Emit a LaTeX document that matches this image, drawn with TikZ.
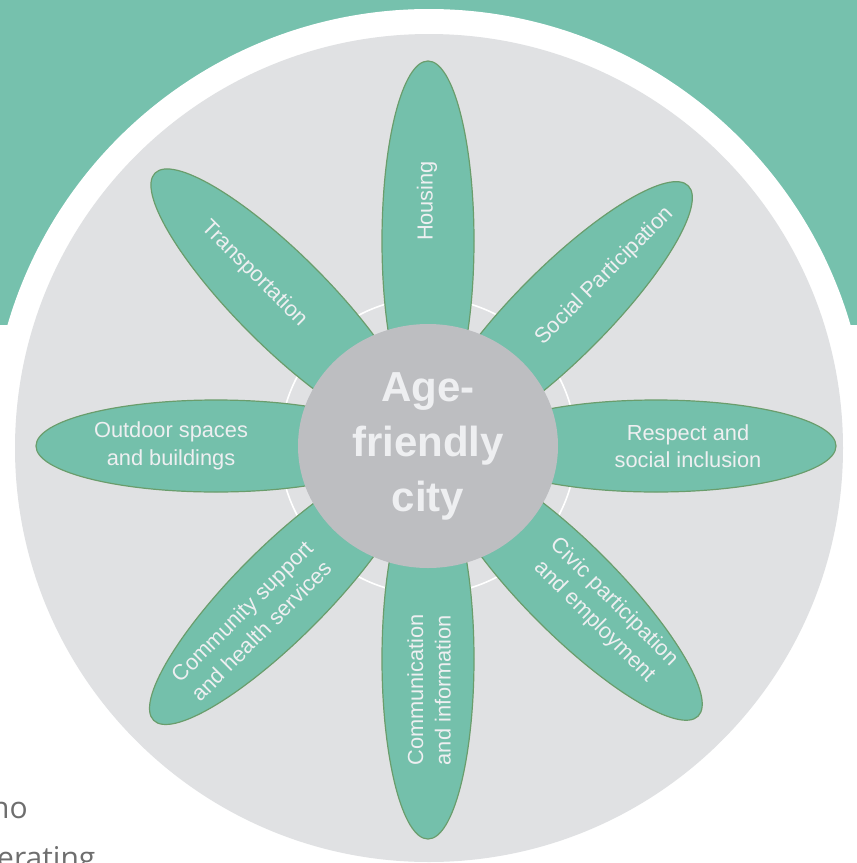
\documentclass[tikz,border=0pt]{standalone}
\usepackage{fontspec}
\setmainfont{Liberation Sans}
\newfontfamily\bodyfont{Open Sans}
\usetikzlibrary{shapes.geometric,calc}
\definecolor{tealbg}{HTML}{76C1AD}
\definecolor{petalfill}{HTML}{74C0AB}
\definecolor{petaledge}{HTML}{6A9D6C}
\definecolor{discgray}{HTML}{E0E1E3}
\definecolor{hubgray}{HTML}{BDBEC1}
\definecolor{labelc}{HTML}{EEEFF1}
\definecolor{pagetext}{HTML}{6E6E6E}
\tikzset{
  petalshape/.style={ellipse, draw=petaledge, line width=1.2pt, fill=petalfill,
    minimum width=360pt, minimum height=92pt, inner sep=0pt},
  petallabel/.style={text=labelc, align=center, inner sep=0pt,
    font=\fontsize{21.8}{27.5}\selectfont},
  hubshape/.style={ellipse, fill=hubgray, minimum width=260pt, minimum height=244pt,
    inner sep=0pt, text=labelc, align=center, font=\fontsize{42}{55}\selectfont\bfseries},
  pagetextstyle/.style={text=pagetext, inner sep=0pt, anchor=base west,
    font=\bodyfont\fontsize{30}{36}\selectfont}
}
\newcommand\mypetal[3]{%
  \node[petalshape, rotate=#2] (#1) at ($(C)+({(#3-180)*cos(#2)},{-(#3-180)*sin(#2)})$) {};}
\begin{document}
\begin{tikzpicture}[x=1pt,y=-1pt]
\useasboundingbox (0,0) rectangle (857,863);
\clip (0,0) rectangle (857,863);
\fill[white] (0,0) rectangle (857,863);
\fill[tealbg] (0,0) rectangle (857,325);
\coordinate (D) at (429,448);
\coordinate (C) at (428,446);
\fill[white] (D) circle [radius=439pt];
\fill[discgray] (D) circle [radius=414pt];
\draw[white, line width=1.6pt] (C) circle [radius=148pt];
% petals
\mypetal{housing}{90}{385}
\mypetal{social}{45}{368}
\mypetal{respect}{0}{408}
\mypetal{civic}{-45}{382}
\mypetal{comm}{-90}{393}
\mypetal{community}{-135}{388}
\mypetal{outdoor}{180}{392}
\mypetal{transport}{135}{386}
% hub
\node[hubshape] (hub) at (C) {Age-\\friendly\\city};
% labels
\node[petallabel, rotate=90] (lhousing) at (427,201) {Housing};
\node[petallabel, rotate=45] (lsocial) at (605,276) {Social Participation};
\node[petallabel] (lrespect) at (688,446) {Respect and\\social inclusion};
\node[petallabel, rotate=-45] (lcivic) at (604,612) {Civic participation\\and employment};
\node[petallabel, rotate=90] (lcomm) at (429,690) {Communication\\and information};
\node[petallabel, rotate=45] (lcommunity) at (252,621) {Community support\\and health services};
\node[petallabel] (loutdoor) at (171,446) {Outdoor spaces\\and buildings};
\node[petallabel, rotate=-45] (ltransport) at (254,274) {Transportation};
% page text
\node[pagetextstyle] (t1) at (-9,818) {no};
\node[pagetextstyle] (t2) at (-3,868) {erating};
\end{tikzpicture}
\end{document}
